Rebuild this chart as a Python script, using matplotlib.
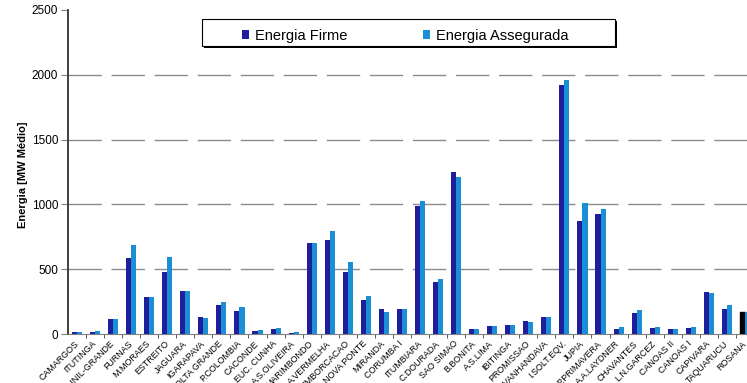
import matplotlib.pyplot as plt
import numpy as np
from matplotlib.patches import Rectangle

plt.rcParams["font.family"] = ["Liberation Sans", "DejaVu Sans"]

usinas = [
    "CAMARGOS", "ITUTINGA", "FUNIL-GRANDE", "FURNAS", "M.MORAES", "ESTREITO",
    "JAGUARA", "IGARAPAVA", "VOLTA GRANDE", "P.COLOMBIA", "CACONDE",
    "EUC. CUNHA", "A.S.OLIVEIRA", "MARIMBONDO", "A.VERMELHA", "EMBORCACAO",
    "NOVA PONTE", "MIRANDA", "CORUMBA I", "ITUMBIARA", "C.DOURADA",
    "SAO SIMAO", "B.BONITA", "A.S.LIMA", "IBITINGA", "PROMISSAO",
    "NAVANHANDAVA", "I.SOLT.EQV.", "JUPIA", "P.PRIMAVERA", "A.A.LAYDNER",
    "CHAVANTES", "L.N.GARCEZ", "CANOAS II", "CANOAS I", "CAPIVARA",
    "TAQUARUCU", "ROSANA",
]
energia_firme = [
    12, 18, 114, 587, 289, 482, 331, 130, 221, 177, 23,
    39, 6, 704, 725, 476, 262, 190, 190, 990, 402,
    1250, 39, 62, 72, 100, 134, 1923, 869, 926, 41,
    162, 46, 41, 46, 324, 193, 170,
]
energia_assegurada = [
    14, 26, 114, 688, 289, 594, 331, 122, 250, 208, 31,
    44, 13, 704, 795, 558, 296, 172, 190, 1027, 425,
    1211, 39, 62, 72, 93, 134, 1962, 1011, 964, 54,
    185, 54, 41, 57, 316, 226, 170,
]
y_ticks = [0, 500, 1000, 1500, 2000, 2500]

COR_FIRME = "#1f1f9e"
COR_ASSEG = "#1b8fd6"

fig = plt.figure(figsize=(7.47, 3.83), dpi=100)
fig.set_facecolor("white")
ax = fig.add_axes([0.0910, 0.1279, 0.9183, 0.846])

x = np.arange(len(usinas))
w = 0.28
bars_f = ax.bar(x - w / 2, energia_firme, w, color=COR_FIRME, label="Energia Firme", zorder=3)
ax.bar(x + w / 2, energia_assegurada, w, color=COR_ASSEG, label="Energia Assegurada", zorder=3)
# last bar shows up black in the original
bars_f[-1].set_color("black")

# dashed grid lines (not at 0 / 2500)
for yv in y_ticks[1:-1]:
    ax.axhline(yv, color="#8c8c8c", linestyle=(0, (24, 7)), linewidth=1.0, zorder=1)

ax.set_xlim(-0.5, len(usinas) - 0.5)
ax.set_ylim(0, 2500)
ax.set_yticks(y_ticks)
ax.tick_params(axis="y", labelsize=8.5, length=5, color="#808080", pad=2)

ax.set_xticks(x)
ax.set_xticklabels(usinas, rotation=45, ha="right", va="center",
                   rotation_mode="anchor", fontsize=6.4)
ax.tick_params(axis="x", which="major", length=0, pad=6)
ax.set_xticks(x[:-1] + 0.5, minor=True)
ax.tick_params(axis="x", which="minor", length=3, color="#404040")

ax.set_ylabel("Energia [MW Médio]", fontsize=8, fontweight="bold")
ax.yaxis.set_label_coords(-0.059, 0.49)

for s in ["top", "right"]:
    ax.spines[s].set_visible(False)
ax.spines["left"].set_color("#404040")
ax.spines["left"].set_linewidth(1.4)
ax.spines["bottom"].set_color("#808080")

# legend box with shadow
shadow = Rectangle((0.2731, 0.8755), 0.5529, 0.0697, transform=fig.transFigure,
                   facecolor="black", edgecolor="none", zorder=3)
box = Rectangle((0.2704, 0.8807), 0.5529, 0.0697, transform=fig.transFigure,
                facecolor="white", edgecolor="black", linewidth=0.8, zorder=4)
fig.add_artist(shadow)
fig.add_artist(box)
leg = fig.legend(loc="center left", bbox_to_anchor=(0.3236, 0.907), ncol=2,
                 frameon=False, fontsize=10.5, handlelength=0.5, handleheight=0.5,
                 handletextpad=0.4, columnspacing=5.2, borderpad=0, borderaxespad=0)
leg.set_zorder(5)

fig.savefig("out.png", dpi=100, facecolor=fig.get_facecolor())
